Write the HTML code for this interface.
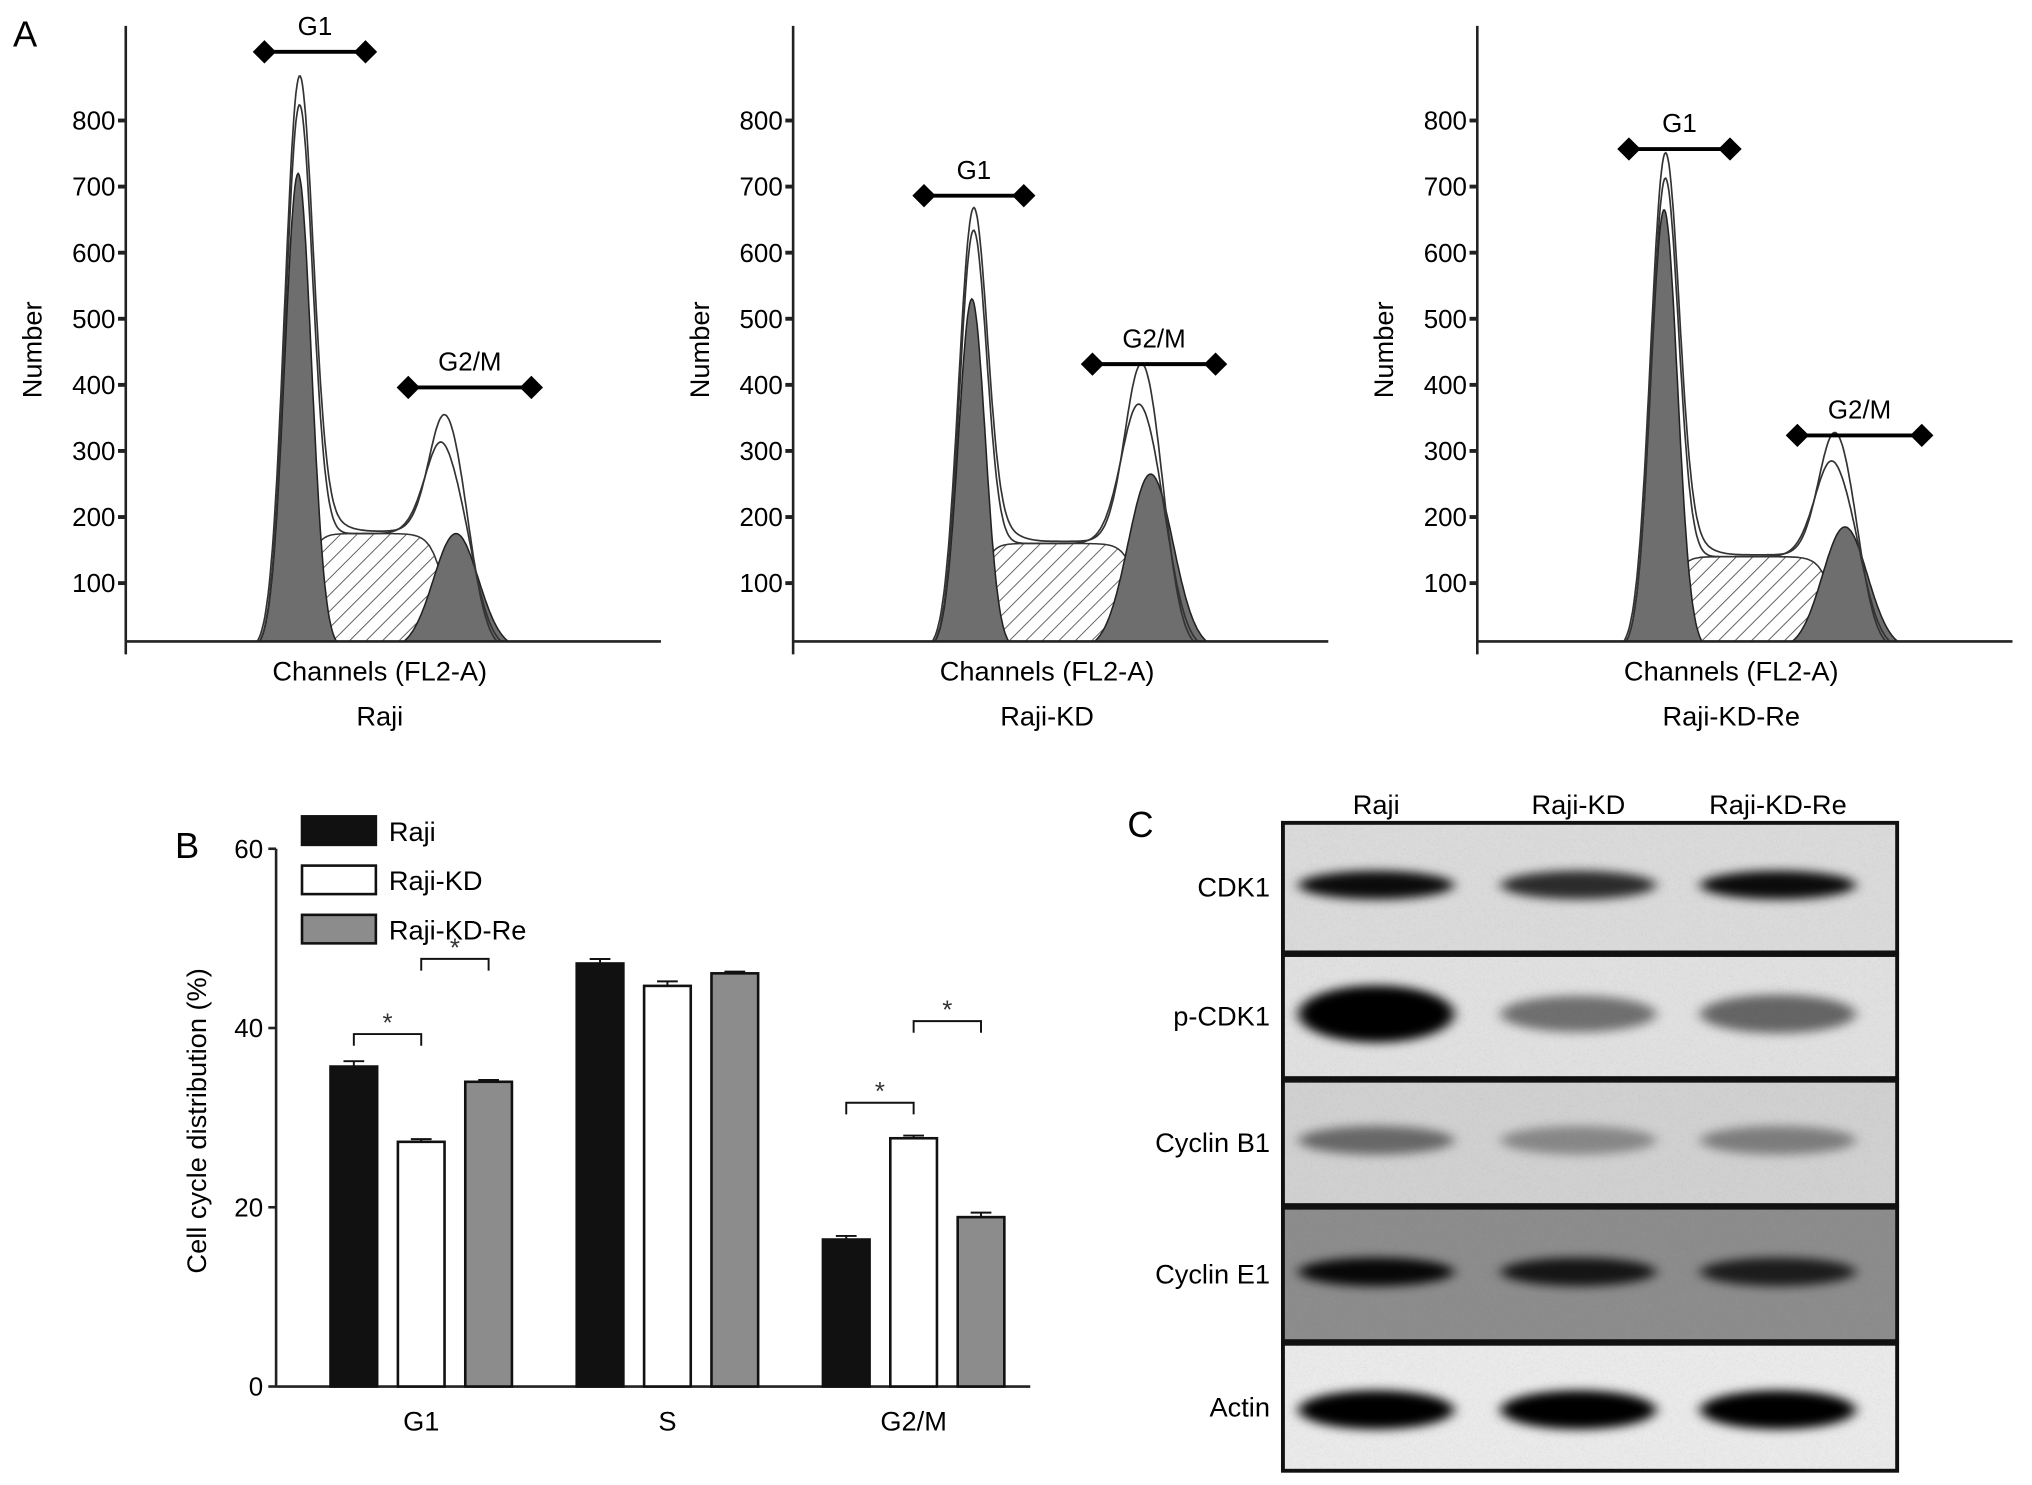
<!DOCTYPE html>
<html><head><meta charset="utf-8"><style>
html,body{margin:0;padding:0;background:#fff;}
svg{display:block;font-family:"Liberation Sans",Arial,sans-serif;}
</style></head><body>
<svg id="fig" width="2032" height="1485" viewBox="0 0 1568 1146" xmlns="http://www.w3.org/2000/svg">
<defs>
<pattern id="hatch" patternUnits="userSpaceOnUse" width="9" height="9" patternTransform="rotate(45)">
<rect width="9" height="9" fill="#fff"/><line x1="0" y1="0" x2="0" y2="9" stroke="#555" stroke-width="1.4"/>
</pattern>
<filter id="blur" x="-30%" y="-100%" width="160%" height="300%"><feGaussianBlur stdDeviation="5 4"/></filter>
<filter id="noise" x="0" y="0" width="1" height="1"><feTurbulence baseFrequency="0.6" numOctaves="2" seed="3"/><feColorMatrix type="saturate" values="0"/><feComponentTransfer><feFuncA type="table" tableValues="0 0.15"/></feComponentTransfer><feComposite in2="SourceGraphic" operator="in"/></filter>
</defs>
<text x="10" y="36" font-size="28">A</text>
<text x="135" y="662" font-size="28">B</text>
<text x="870" y="646" font-size="28">C</text>
<g id="hists"></g>
<g id="barchart"></g>
<g id="blot"></g>
</svg>
<script>
const NS="http://www.w3.org/2000/svg";
function mk(parent,tag,attrs,text){const e=document.createElementNS(NS,tag);for(const k in attrs)e.setAttribute(k,attrs[k]);if(text!==undefined)e.textContent=text;parent.appendChild(e);return e;}

// ---- Panel A data (channels 0..1000, counts) ----
const histNames=["Raji","Raji-KD","Raji-KD-Re"];
const g1Mean=[322,334,349];
const g1Fill=[720,530,665];
const g1Outline=[860,660,745];
const sHeight=[175,160,140];
const g2Mean=[617,668,687];
const g2Fill=[175,265,185];
const g2Outline=[335,420,315];
const yTicks=[100,200,300,400,500,600,700,800];
const g1Marker=[[204,282,40],[713,790,151],[1257,1335,115]];
const g2Marker=[[315,410,299],[843,938,281],[1387,1483,336]];

const H=document.getElementById('hists');
const axX=[97,612,1140], axW=413, y0=501, yTop=20, axisY=495;
function gauss(x,m,s){return Math.exp(-0.5*((x-m)/s)**2);}
function sig(x){return 1/(1+Math.exp(-x));}
for(let p=0;p<3;p++){
  const g=mk(H,'g',{});
  
  
  const X=c=>axX[p]+c/1000*axW, Y=v=>y0-v*0.51;
  const s1=25,s2=42;
  const S=c=>sHeight[p]*sig((c-g1Mean[p]-10)/12)*sig((g2Mean[p]-20-c)/14);
  function path(fn,close){let d='';for(let c=200;c<=900;c+=2){const v=fn(c);d+=(d?'L':'M')+X(c).toFixed(1)+','+Math.min(Y(v),axisY).toFixed(1);}if(close)d+='Z';return d;}
  mk(g,'path',{d:path(c=>S(c),true),fill:'url(#hatch)',stroke:'#333','stroke-width':1.2});
  mk(g,'path',{d:path(c=>g1Fill[p]*gauss(c,g1Mean[p],s1),true),fill:'#6e6e6e',stroke:'#222','stroke-width':1.2});
  mk(g,'path',{d:path(c=>g2Fill[p]*gauss(c,g2Mean[p],s2),true),fill:'#6e6e6e',stroke:'#222','stroke-width':1.2});
  const a1=g1Outline[p]-S(g1Mean[p]), a2=g2Outline[p]-S(g2Mean[p]-8);
  mk(g,'path',{d:path(c=>(a1*0.95)*gauss(c,g1Mean[p],s1)+S(c)+(a2*0.82)*gauss(c,g2Mean[p]-8,s2*0.9)),fill:'none',stroke:'#333','stroke-width':1.3});
  mk(g,'path',{d:path(c=>a1*gauss(c,g1Mean[p],s1*1.05)+S(c)*1.02+a2*gauss(c,g2Mean[p]-8,s2*0.8)+12*gauss(c,g1Mean[p]+60,30)),fill:'none',stroke:'#333','stroke-width':1.3});
  // axes
  mk(g,'line',{x1:axX[p],y1:yTop,x2:axX[p],y2:axisY+10,stroke:'#222','stroke-width':2});
  mk(g,'line',{x1:axX[p],y1:axisY,x2:axX[p]+axW,y2:axisY,stroke:'#222','stroke-width':2});
  yTicks.forEach(t=>{mk(g,'line',{x1:axX[p]-6,y1:Y(t),x2:axX[p],y2:Y(t),stroke:'#222','stroke-width':3});
    const tl=mk(g,'text',{x:axX[p]-8,y:Y(t)+7,'font-size':20,'text-anchor':'end'},t);
    });
  const yt=mk(g,'text',{x:0,y:0,'font-size':21,'text-anchor':'middle',transform:`translate(${axX[p]-65},270) rotate(-90)`},'Number');
  
  const xt=mk(g,'text',{x:axX[p]+196,y:525,'font-size':21,'text-anchor':'middle'},'Channels (FL2-A)');
  
  const nm=mk(g,'text',{x:axX[p]+196,y:560,'font-size':21,'text-anchor':'middle'},histNames[p]);
  
  [[g1Marker[p],'G1'],[g2Marker[p],'G2/M']].forEach(([m,lab])=>{
    mk(g,'line',{x1:m[0],y1:m[2],x2:m[1],y2:m[2],stroke:'#000','stroke-width':3});
    [m[0],m[1]].forEach(x=>mk(g,'path',{d:`M${x-9},${m[2]}L${x},${m[2]-9}L${x+9},${m[2]}L${x},${m[2]+9}Z`,fill:'#000'}));
    const t=mk(g,'text',{x:(m[0]+m[1])/2,y:m[2]-13,'font-size':20,'text-anchor':'middle'},lab);
    
  });
}

// ---- Panel B data ----
const phases=["G1","S","G2/M"];
const seriesNames=["Raji","Raji-KD","Raji-KD-Re"];
const rajiVals=[35.7,47.2,16.4];
const kdVals=[27.3,44.7,27.7];
const reVals=[34.0,46.1,18.9];
const errVals=[[0.6,0.5,0.4],[0.3,0.5,0.3],[0.2,0.2,0.5]];
const bTicks=[0,20,40,60];
const B=document.getElementById('barchart');
const bx0=213,by0=1070,byTop=655,bw=36;
const BY=v=>by0-v/60*(by0-byTop);
const groupX=[255,445,635];
const fills=['#111','#fff','#8c8c8c'];
mk(B,'line',{x1:bx0,y1:byTop,x2:bx0,y2:by0,stroke:'#222','stroke-width':2});
mk(B,'line',{x1:bx0,y1:by0,x2:795,y2:by0,stroke:'#222','stroke-width':2});
bTicks.forEach(t=>{mk(B,'line',{x1:bx0-6,y1:BY(t),x2:bx0,y2:BY(t),stroke:'#222','stroke-width':2});
  const e=mk(B,'text',{x:bx0-10,y:BY(t)+7,'font-size':20,'text-anchor':'end'},t);
  });
const byt=mk(B,'text',{x:0,y:0,'font-size':21,'text-anchor':'middle',transform:'translate(159,865) rotate(-90)'},'Cell cycle distribution (%)');

const allVals=[rajiVals,kdVals,reVals];
phases.forEach((ph,i)=>{
  allVals.forEach((vals,s)=>{
    const x=groupX[i]+s*52;
    const r=mk(B,'rect',{x:x,y:BY(vals[i]),width:bw,height:by0-BY(vals[i]),fill:fills[s],stroke:'#111','stroke-width':2});
    
    
    const ey=BY(vals[i]+errVals[s][i]);
    mk(B,'line',{x1:x+bw/2,y1:ey,x2:x+bw/2,y2:BY(vals[i]),stroke:'#111','stroke-width':1.5});
    mk(B,'line',{x1:x+10,y1:ey,x2:x+bw-10,y2:ey,stroke:'#111','stroke-width':1.5});
  });
  const t=mk(B,'text',{x:groupX[i]+70,y:1104,'font-size':21,'text-anchor':'middle'},ph);
  
});
const sigPairs=[[0,0,1,798],[0,1,2,740],[2,0,1,851],[2,1,2,788]];
sigPairs.forEach(sp=>{
  const xa=groupX[sp[0]]+sp[1]*52+bw/2, xb=groupX[sp[0]]+sp[2]*52+bw/2;
  const g=mk(B,'g',{});
  mk(g,'path',{d:`M${xa},${sp[3]+9}V${sp[3]}H${xb}V${sp[3]+9}`,fill:'none',stroke:'#111','stroke-width':1.5});
  mk(g,'text',{x:(xa+xb)/2,y:sp[3]-2,'font-size':20,'text-anchor':'middle',fill:'#333'},'*');
});
seriesNames.forEach((n,s)=>{
  const g=mk(B,'g',{});
  const y=630+s*38;
  mk(g,'rect',{x:233,y:y,width:57,height:22,fill:fills[s],stroke:'#111','stroke-width':2});
  mk(g,'text',{x:300,y:y+19,'font-size':21},n);
});

// ---- Panel C blot ----
const proteins=["CDK1","p-CDK1","Cyclin B1","Cyclin E1","Actin"];
const laneNames=["Raji","Raji-KD","Raji-KD-Re"];
const intensities=[[0.95,0.8,0.95],[1.0,0.5,0.55],[0.5,0.35,0.4],[0.95,0.85,0.8],[1.0,1.0,1.0]];
const C=document.getElementById('blot');
const strips=[[635,735],[737,832],[834,930],[932,1035],[1037,1135]];
const bgs=['#dcdcdc','#e2e2e2','#d2d2d2','#8c8c8c','#ececec'];
const laneX=[1062,1218,1372];
laneNames.forEach((n,i)=>{const t=mk(C,'text',{x:laneX[i],y:628,'font-size':21,'text-anchor':'middle'},n);
  });
strips.forEach((st,k)=>{
  const g=mk(C,'g',{});
  mk(g,'rect',{x:990,y:st[0],width:474,height:st[1]-st[0],fill:bgs[k]});
  mk(g,'rect',{x:990,y:st[0],width:474,height:st[1]-st[0],fill:'#000',filter:'url(#noise)'});
  const cy=(st[0]+st[1])/2+(k===4?2:-2);
  intensities[k].forEach((v,i)=>{
    const hgt=k===1?16*v+6:(k===4?15:11);
    mk(g,'ellipse',{cx:laneX[i],cy:cy,rx:60,ry:hgt,fill:'#000','fill-opacity':v,filter:'url(#blur)'});
  });
  mk(g,'rect',{x:990,y:st[0],width:474,height:st[1]-st[0],fill:'none',stroke:'#111','stroke-width':3});
  const t=mk(C,'text',{x:980,y:(st[0]+st[1])/2+7,'font-size':21,'text-anchor':'end'},proteins[k]);
  
});
</script>
</body></html>
